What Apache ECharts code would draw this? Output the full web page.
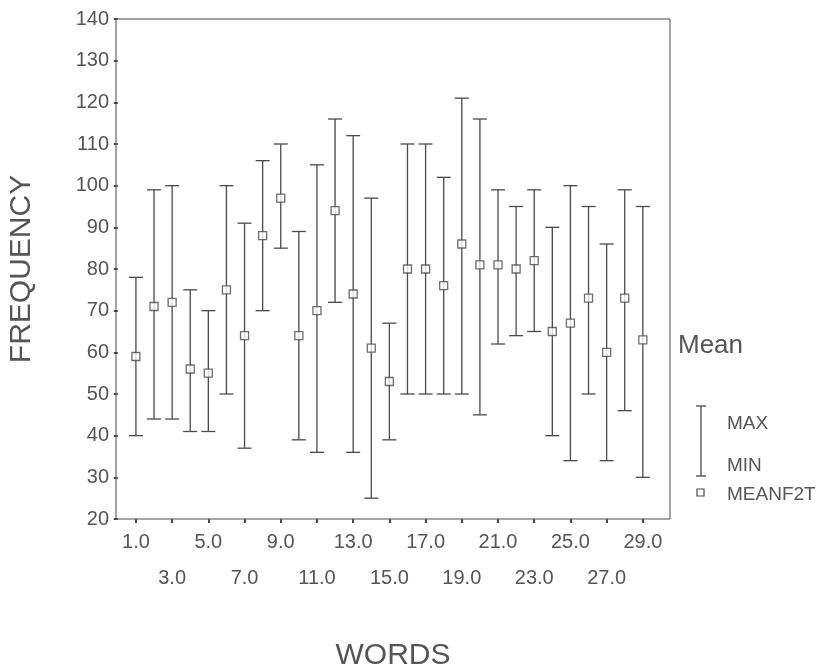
<!DOCTYPE html>
<html>
<head>
<meta charset="utf-8">
<script src="https://cdn.jsdelivr.net/npm/echarts@6/dist/echarts.min.js"></script>
<style>
html,body{margin:0;padding:0;background:#fff;}
#chart{width:838px;height:669px;}
</style>
</head>
<body>
<div id="chart"></div>
<script>
var words = [1,2,3,4,5,6,7,8,9,10,11,12,13,14,15,16,17,18,19,20,21,22,23,24,25,26,27,28,29];
var maxVals = [78,99,100,75,70,100,91,106,110,89,105,116,112,97,67,110,110,102,121,116,99,95,99,90,100,95,86,99,95];
var minVals = [40,44,44,41,41,50,37,70,85,39,36,72,36,25,39,50,50,50,50,45,62,64,65,40,34,50,34,46,30];
var meanVals = [59,71,72,56,55,75,64,88,97,64,70,94,74,61,53,80,80,76,86,81,81,80,82,65,67,73,60,73,63];
var xTickValues = [1,3,5,7,9,11,13,15,17,19,21,23,25,27,29];
var xTickLabels = ['1.0','3.0','5.0','7.0','9.0','11.0','13.0','15.0','17.0','19.0','21.0','23.0','25.0','27.0','29.0'];

var lineColor = '#4a4a4a';
var textColor = '#555555';
var fontFamily = 'Liberation Sans, Arial, sans-serif';

var rangeData = words.map(function(w, i){ return [w, maxVals[i], minVals[i]]; });
var meanData = words.map(function(w, i){ return [w, meanVals[i]]; });
var row1Values = xTickValues.filter(function(v, i){ return i % 2 === 0; });
var row2Values = xTickValues.filter(function(v, i){ return i % 2 === 1; });
function tickLabel(v){
  var idx = xTickValues.indexOf(Math.round(v));
  return idx >= 0 ? xTickLabels[idx] : '';
}

var chart = echarts.init(document.getElementById('chart'), null, {renderer:'canvas'});
var option = {
  backgroundColor: '#ffffff',
  animation: false,
  grid: {left:116, top:19, right:168, bottom:150, show:true, borderColor:lineColor, borderWidth:1,
         backgroundColor:'transparent', containLabel:false, outerBoundsMode:'none'},
  xAxis: [{
    type:'value', min:-0.1, max:30.5, position:'bottom',
    splitLine:{show:false},
    axisLine:{show:false},
    axisTick:{show:true, customValues:xTickValues, length:4, inside:false, lineStyle:{color:lineColor, width:2}},
    axisLabel:{
      customValues:row1Values, margin:13, fontSize:20, color:textColor, fontFamily:fontFamily,
      showMaxLabel:true, showMinLabel:true, hideOverlap:false,
      formatter:tickLabel
    },
    name:'WORDS', nameLocation:'middle', nameGap:122,
    nameTextStyle:{fontSize:30, color:textColor, fontFamily:fontFamily}
  },{
    type:'value', min:-0.1, max:30.5, position:'bottom', offset:36,
    splitLine:{show:false},
    axisLine:{show:false},
    axisTick:{show:false},
    axisLabel:{
      customValues:row2Values, margin:13, fontSize:20, color:textColor, fontFamily:fontFamily,
      showMaxLabel:true, showMinLabel:true, hideOverlap:false,
      formatter:tickLabel
    }
  }],
  yAxis: {
    type:'value', min:20, max:140, interval:10,
    splitLine:{show:false},
    axisLine:{show:false},
    axisTick:{show:true, length:4, lineStyle:{color:lineColor, width:2}},
    axisLabel:{fontSize:20, color:textColor, fontFamily:fontFamily, margin:7},
    name:'FREQUENCY', nameLocation:'middle', nameGap:79, nameRotate:90,
    nameTextStyle:{fontSize:30, color:textColor, fontFamily:fontFamily}
  },
  series: [
    {
      type:'custom',
      name:'MAX/MIN',
      xAxisIndex:0,
      data: rangeData,
      encode:{x:0, y:[1,2]},
      renderItem:function(params, api){
        var top = api.coord([api.value(0), api.value(1)]);
        var bot = api.coord([api.value(0), api.value(2)]);
        var hw = 7;
        var st = {stroke:lineColor, lineWidth:1.3};
        return {
          type:'group',
          children:[
            {type:'line', shape:{x1:top[0], y1:top[1], x2:bot[0], y2:bot[1]}, style:st},
            {type:'line', shape:{x1:top[0]-hw, y1:top[1], x2:top[0]+hw, y2:top[1]}, style:st},
            {type:'line', shape:{x1:bot[0]-hw, y1:bot[1], x2:bot[0]+hw, y2:bot[1]}, style:st}
          ]
        };
      },
      z:2
    },
    {
      type:'scatter',
      name:'MEANF2T',
      xAxisIndex:0,
      data: meanData,
      symbol:'rect',
      symbolSize:8,
      itemStyle:{color:'#ffffff', borderColor:lineColor, borderWidth:1.3},
      z:5
    }
  ],
  graphic: [
    {type:'text', left:678, top:333, style:{text:'Mean', fontSize:26, fill:textColor, fontFamily:fontFamily}},
    {type:'line', shape:{x1:701, y1:406, x2:701, y2:476}, style:{stroke:lineColor, lineWidth:1.3}},
    {type:'line', shape:{x1:696, y1:406, x2:706, y2:406}, style:{stroke:lineColor, lineWidth:1.3}},
    {type:'line', shape:{x1:696, y1:476, x2:706, y2:476}, style:{stroke:lineColor, lineWidth:1.3}},
    {type:'text', left:727, top:414, style:{text:'MAX', fontSize:19, fill:textColor, fontFamily:fontFamily}},
    {type:'text', left:727, top:456, style:{text:'MIN', fontSize:19, fill:textColor, fontFamily:fontFamily}},
    {type:'rect', shape:{x:697, y:489, width:7, height:7}, style:{fill:'#fff', stroke:lineColor, lineWidth:1.2}},
    {type:'text', left:727, top:485, style:{text:'MEANF2T', fontSize:19, fill:textColor, fontFamily:fontFamily}}
  ]
};
chart.setOption(option);
</script>
</body>
</html>
